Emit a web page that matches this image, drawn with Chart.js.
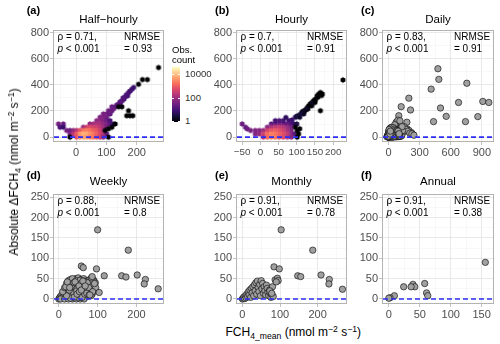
<!DOCTYPE html>
<html><head><meta charset="utf-8">
<script src="https://cdn.jsdelivr.net/npm/chart.js@4"></script>
<style>
body{margin:0;width:500px;height:344px;background:#fff;position:relative;overflow:hidden;font-family:"Liberation Sans",Arial,sans-serif;}
canvas{position:absolute;}
.t{position:absolute;white-space:nowrap;line-height:1;color:#000;}
.t sub,.t sup{font-size:0.72em;line-height:0;position:relative;vertical-align:baseline;}
.t sub{top:0.32em}.t sup{top:-0.45em}
</style></head><body>
<script>
// ---------------- DATA ----------------
// (a) Half-hourly hexbin cells: x, y, observation count
const hhX = [184,173,162,170,151,158,140,146,118,129,107,118,90,101,112,79,90,101,68,79,90,101,112,
  190,178,166,155,145,134,124,112,96,85,74,
  46,57,68,79,90,101,112,123,-58,-42,
  -53,-42,24,35,46,57,68,79,90,101,
  -31,-20,-9,2,13,24,35,46,57,68,79,90,
  -20,-9,2,13,24,35,46,57,68,79,90,101,
  2,13,24,35,46,57,68,79,90,
  272,206,219,235,140,151,173,167,178,187,118,107,96,-20,107,129];
const hhY = [366,341,308,316,278,290,253,262,232,232,202,202,177,177,177,152,152,152,126,126,126,126,126,
  380,352,325,300,270,245,218,190,165,140,114,
  101,101,101,101,101,101,101,101,101,101,
  76,76,76,76,76,76,76,76,76,76,
  51,51,51,51,51,51,51,51,51,51,51,51,
  25,25,25,25,25,25,25,25,25,25,25,25,
  0,0,0,0,0,0,0,0,0,
  532,404,440,440,232,232,202,164,164,164,76,64,51,0,0,101];
const hhN = [12,15,18,10,20,12,25,15,30,25,35,25,40,35,20,50,45,25,70,80,50,30,12,
  8,10,12,15,18,22,28,30,45,60,90,
  80,120,150,150,90,50,20,8,40,30,
  15,8,100,400,600,500,400,250,120,40,
  40,30,80,200,800,2000,2500,2000,1200,900,400,150,
  50,200,1000,4000,8000,7000,4000,2500,1200,600,200,30,
  700,4000,6000,5000,3000,2000,1000,400,80,
  1,1,1,1,1,1,1,1,1,1,1,1,1,1,1,1];

// (b) Hourly hexbin cells
const hX = [119,96,108,87,78,82,91,100,
  30,41,52,63,72,41,52,63,70,-50,-41,-36,
  19,30,41,52,63,74,85,
  -27,-14,-3,8,19,30,41,52,63,74,85,
  -14,-3,8,19,30,41,52,63,74,85,94,
  8,19,30,41,52,63,74,85,
  165,170,160,156,151,146,150,143,137,141,130,124,130,120,114,105,
  168,158,150,140,133,127,117,110,100,
  227,165,101,105,96,101,108];
const hY = [177,152,152,132,126,101,101,101,
  101,101,101,101,101,126,126,126,150,101,76,63,
  76,76,76,76,76,76,76,
  51,51,51,51,51,51,51,51,51,51,51,
  25,25,25,25,25,25,25,25,25,25,25,
  0,0,0,0,0,0,0,0,
  341,330,328,316,290,278,265,265,253,240,228,207,215,195,189,164,
  318,305,280,258,240,218,198,175,160,
  437,202,51,25,76,0,64];
const hN = [3,5,3,8,10,15,8,4,
  20,30,40,40,25,10,15,12,6,30,25,30,
  60,150,250,300,200,100,40,
  40,50,60,100,400,800,1000,700,400,150,50,
  50,80,400,1500,2500,2000,1200,700,300,80,20,
  250,1500,2500,2000,1200,600,250,60,
  1,1,1,1,1,1,1,1,1,1,1,1,1,1,1,1,
  1,1,1,2,1,2,2,3,3,
  1,1,1,1,1,1,1];

// (c) Daily
const dailyX = [0,3,6,9,12,15,18,21,24,27,30,33,36,39,42,45,48,51,54,57,60,63,66,69,72,75,78,81,84,87,90,93,96,99,102,105,108,111,114,117,120,125,
  10,20,30,40,50,60,70,80,15,25,35,45,55,65,75,85,95,105,-5,-10,5,2,8,12,40,60,80,100,20,30,
  -15,-8,-3,4,7,10,14,18,22,26,32,36,42,46,52,56,62,66,72,76,82,86,92,98,104,110,116,124,130,28,34,44,48,54,58,64,68,74,84,94,6,16,2,-2,38,50,70,88,24,60,
  476,485,411,755,675,909,967,501,556,434,742,861,196,212,122,99,74,177,180,198,222,238,90,60,140,155,150,165,185,205,225,245,120,135,110,130,
  -12,-9,-6,-4,-1,1,3,5,7,9,11,13,16,19,22,25,28,31,34,37,40,43,46,49,52,55,58,61,64,67,70,73,76,79,82,85,88,91,94,97,100,103,106,
  0,4,8,12,17,21,26,30,35,39,44,48,53,57,62,66,71,75,80,84,89,93,98,102,-3,2,6,10,14,18];
const dailyY = [0,2,5,1,8,3,12,6,16,9,20,4,24,12,28,7,32,18,36,10,40,22,44,14,48,26,52,8,30,56,18,34,60,12,38,24,44,6,30,50,16,36,
  20,30,40,50,60,70,75,70,45,55,65,72,78,62,58,45,50,55,2,5,12,25,35,50,0,2,3,4,0,-2,
  3,10,18,30,42,55,62,70,38,48,58,66,60,52,44,66,50,30,36,62,24,16,26,42,14,38,22,8,18,12,6,18,24,28,14,8,20,4,10,6,22,18,6,12,36,48,58,66,72,80,
  523,442,367,412,265,273,265,223,159,119,119,157,298,208,233,164,114,114,63,51,34,19,130,95,60,45,80,60,45,30,25,15,70,50,125,80,
  4,14,8,22,2,30,12,40,6,26,48,16,34,54,10,28,44,62,20,38,56,68,14,32,50,64,24,42,58,6,36,52,18,46,30,12,40,22,34,8,28,16,10,
  18,52,28,64,44,70,58,74,48,60,40,72,56,62,44,54,28,48,36,50,32,46,20,26,8,42,58,36,24,46];

// (d) Weekly
const weeklyX = [0,2,4,6,8,10,12,14,16,18,20,22,24,26,28,30,32,34,36,38,40,42,44,46,48,50,52,54,56,58,60,62,64,66,68,70,72,74,76,78,80,82,84,86,88,90,92,94,
  5,15,25,35,45,55,65,30,50,20,40,60,
  10,15,20,25,30,35,45,55,65,75,85,95,27,33,39,47,53,57,63,67,73,77,83,87,18,22,28,42,52,58,62,68,72,78,
  100,179,58,63,97,117,162,173,202,223,220,256,104,80,88,92,84,86];
const weeklyY = [0,3,6,2,10,4,15,8,20,12,25,5,30,18,35,10,40,25,45,15,48,30,50,20,38,52,8,42,28,48,15,35,50,22,40,5,30,45,18,38,48,25,42,12,35,46,20,40,
  0,0,0,0,0,0,0,2,3,8,5,4,
  18,28,38,45,48,50,45,46,44,40,30,28,22,33,40,12,18,38,25,12,22,28,8,18,30,42,28,42,32,22,44,32,14,10,
  170,120,81,77,74,57,57,54,59,48,37,25,16,10,45,38,52,55];

// (e) Monthly
const monthlyX = [0,2,4,6,8,10,12,14,16,18,20,22,24,26,28,30,32,34,36,38,40,42,44,46,48,50,52,54,56,58,60,62,64,66,68,70,72,74,76,78,80,82,
  84,98,87,93,95,90,103,187,147,155,209,231,230,266,73,78];
const monthlyY = [0,2,5,1,8,3,12,6,18,10,22,4,26,15,30,8,35,20,40,12,44,28,18,36,8,45,25,38,14,30,20,10,34,26,16,8,22,14,4,12,30,6,
  79,74,47,51,45,42,170,120,57,55,59,48,37,24,20,14];

// (f) Annual
const annualX = [156,58,61,63,39,42,36,24,9,2,0];
const annualY = [90,38,15,8,36,30,30,30,8,3,2];

// tick values
const ticksTopY = [0,200,400,600,800], minorTopY = [100,300,500,700];
const ticksBotY = [0,50,100,150,200,250], minorBotY = [25,75,125,175,225];
const ticksAx = [0,100,200], minorAx = [-50,50,150,250];
const ticksBx = [-50,0,50,100,150,200], minorBx = [-25,25,75,125,175,225];
const ticksCx = [0,300,600,900], minorCx = [150,450,750];
const ticksDx = [0,100,200], minorDx = [50,150,250];
const ticksEx = [0,100,200], minorEx = [50,150,250];
const ticksFx = [0,50,100,150], minorFx = [25,75,125];

// ---------------- STYLE HELPERS ----------------
const FONT = '"Liberation Sans", Arial, sans-serif';
const MAGMA = ['#000004','#140e36','#3b0f70','#641a80','#8c2981','#b73779','#de4968','#f7705c','#fe9f6d','#fecf92','#fcfdbf'];
const LOGMAX = 4.65;
function hex2rgb(h){return [parseInt(h.slice(1,3),16),parseInt(h.slice(3,5),16),parseInt(h.slice(5,7),16)];}
function magma(t){
  t=Math.max(0,Math.min(1,t)); const f=t*10; const i=Math.min(9,Math.floor(f)); const u=f-i;
  const a=hex2rgb(MAGMA[i]), b=hex2rgb(MAGMA[i+1]);
  return 'rgb('+a.map((v,k)=>Math.round(v+(b[k]-v)*u)).join(',')+')';
}
const hexCache={};
function hexImg(color,r){
  const key=color+r; if(hexCache[key]) return hexCache[key];
  const s=Math.ceil(2*r)+2; const c=document.createElement('canvas'); c.width=s; c.height=s;
  const g=c.getContext('2d'); g.fillStyle=color; g.beginPath();
  for(let k=0;k<6;k++){const a=(60*k-90)*Math.PI/180; const px=s/2+r*Math.cos(a), py=s/2+r*Math.sin(a); k?g.lineTo(px,py):g.moveTo(px,py);}
  g.closePath(); g.fill(); hexCache[key]=c; return c;
}
function txt(html,x,y,o={}){
  const d=document.createElement('div'); d.className='t'; d.innerHTML=html;
  d.style.left=x+'px'; d.style.top=y+'px'; d.style.fontSize=(o.size||10)+'px';
  if(o.bold) d.style.fontWeight='bold';
  if(o.color) d.style.color=o.color;
  const ax=o.align==='center'?'-50%':(o.align==='right'?'-100%':'0');
  d.style.transform='translate('+ax+',-50%)';
  document.body.appendChild(d); return d;
}

const overlay={id:'overlay',afterDatasetsDraw(chart){
  const {ctx,chartArea:a,scales:{y}}=chart; const py=y.getPixelForValue(0);
  ctx.save(); ctx.beginPath(); ctx.rect(a.left,a.top,a.right-a.left,a.bottom-a.top); ctx.clip();
  ctx.strokeStyle='#2e2ef2'; ctx.lineWidth=1.6; ctx.setLineDash([5,3]);
  ctx.beginPath(); ctx.moveTo(a.left+1,py); ctx.lineTo(a.right,py); ctx.stroke(); ctx.restore();
  ctx.save(); ctx.strokeStyle='#b3b3b3'; ctx.lineWidth=1;
  ctx.strokeRect(a.left+0.5,a.top+0.5,a.right-a.left-1,a.bottom-a.top-1); ctx.restore();
}};

function axis(min,max,major,minor,isX,fit,fs){
  const all=[...major,...minor].filter(v=>v>min&&v<max).sort((p,q)=>p-q);
  return {type:'linear',min,max,
    afterBuildTicks:s=>{s.ticks=all.map(v=>({value:v}));},
    afterFit:s=>{ if(isX) s.height=fit; else s.width=fit; },
    ticks:{autoSkip:false,maxRotation:0,padding:1,color:'#4d4d4d',font:{family:FONT,size:fs||11},
      callback:v=>major.includes(v)?String(v).replace('-','\u2212'):''},
    grid:{drawTicks:true,tickLength:3,
      color:c=>major.includes(c.tick&&c.tick.value)?'#e3e3e3':'#f1f1f1',
      lineWidth:c=>major.includes(c.tick&&c.tick.value)?0.8:0.5,
      tickColor:c=>major.includes(c.tick&&c.tick.value)?'#b3b3b3':'rgba(0,0,0,0)'},
    border:{display:false}};
}

const WY=34, PT=10, PR=6, HX=20;
function panel(g,xr,xMaj,xMin,yr,yMaj,yMin,datasets,xfs){
  const cv=document.createElement('canvas');
  const W=WY+g.w+PR, H=PT+g.h+HX;
  cv.width=W; cv.height=H; cv.style.left=(g.l-WY)+'px'; cv.style.top=(g.t-PT)+'px';
  cv.style.width=W+'px'; cv.style.height=H+'px';
  document.body.appendChild(cv);
  new Chart(cv,{type:'scatter',data:{datasets},
    options:{responsive:false,animation:false,devicePixelRatio:1,events:[],
      layout:{padding:{top:PT,right:PR,left:0,bottom:0}},
      plugins:{legend:{display:false},tooltip:{enabled:false}},
      scales:{x:axis(xr[0],xr[1],xMaj,xMin,true,HX,xfs),y:axis(yr[0],yr[1],yMaj,yMin,false,WY)}},
    plugins:[overlay]});
}
function hexSet(xs,ys,ns,r){
  return [{data:xs.map((x,i)=>({x,y:ys[i]})),
    pointStyle:c=>hexImg(magma(Math.log10(ns[c.dataIndex])/LOGMAX),r),
    pointRadius:r,borderWidth:0}];
}
function ptSet(xs,ys){
  return [{data:xs.map((x,i)=>({x,y:ys[i]})),pointStyle:'circle',pointRadius:3.2,
    backgroundColor:'#a0a0a0',borderColor:'#000',borderWidth:0.6}];
}

const G={a:{l:53,t:30,w:111,h:112},b:{l:236,t:30,w:111,h:112},c:{l:382,t:30,w:112,h:112},
  d:{l:53,t:194,w:111,h:110},e:{l:236,t:194,w:111,h:110},f:{l:382,t:194,w:112,h:110}};
const topY=[-37,819], botY=[-12.3,258];

panel(G.a,[-76,290],ticksAx,minorAx,topY,ticksTopY,minorTopY,hexSet(hhX,hhY,hhN,2.8));
panel(G.b,[-67,238],ticksBx,minorBx,topY,ticksTopY,minorTopY,hexSet(hX,hY,hN,2.8),9.8);
panel(G.c,[-63,1017],ticksCx,minorCx,topY,ticksTopY,minorTopY,ptSet(dailyX,dailyY));
panel(G.d,[-15,271],ticksDx,minorDx,botY,ticksBotY,minorBotY,ptSet(weeklyX,weeklyY));
panel(G.e,[-17,278],ticksEx,minorEx,botY,ticksBotY,minorBotY,ptSet(monthlyX,monthlyY));
panel(G.f,[-11,170],ticksFx,minorFx,botY,ticksBotY,minorBotY,ptSet(annualX,annualY));

// ---------------- TEXT ----------------
const stats=[['a','0.71','0.93'],['b','0.7','0.91'],['c','0.83','0.91'],['d','0.88','0.8'],['e','0.91','0.78'],['f','0.91','0.38']];
const titles={a:'Half\u2212hourly',b:'Hourly',c:'Daily',d:'Weekly',e:'Monthly',f:'Annual'};
stats.forEach(([k,rho,nr])=>{
  const g=G[k];
  txt('\u03c1 = '+rho+',',g.l+4.5,g.t+7,{size:10});
  txt('<i>p</i> &lt; 0.001',g.l+4.5,g.t+18.5,{size:10});
  txt('NRMSE',g.l+g.w-40,g.t+7,{size:10});
  txt('= '+nr,g.l+g.w-40,g.t+18.5,{size:10});
  const top=g.t<100;
  txt(titles[k],g.l+g.w/2,top?19.5:182,{size:11.5,align:'center'});
  const tx={a:26.7,b:215,c:361,d:26.7,e:215,f:361}[k];
  txt('('+k+')',tx,top?10:175,{size:11,bold:true});
});
// axis titles
const yt=txt('Absolute \u0394FCH<sub>4</sub> (nmol m<sup>\u22122</sup> s<sup>\u22121</sup>)',0,0,{size:12});
yt.style.transform='translate(-50%,-50%) rotate(-90deg)'; yt.style.left='14px'; yt.style.top='172px';
txt('FCH<sub>4_mean</sub> (nmol m<sup>\u22122</sup> s<sup>\u22121</sup>)',225.5,332,{size:12});

// colour legend
txt('Obs.',172,50,{size:9.5});
txt('count',172,60,{size:9.5});
const bar=document.createElement('div');
bar.style.cssText='position:absolute;left:172px;top:67px;width:8px;height:55px;background:linear-gradient(to top,'+MAGMA.join(',')+');';
document.body.appendChild(bar);
[[74,'10000'],[97.7,'100'],[120.7,'1']].forEach(([y,l])=>{
  txt(l,185,y,{size:9.6,color:'#333'});
  const tk=document.createElement('div');
  tk.style.cssText='position:absolute;left:172px;width:1.6px;height:0.8px;background:#fff;top:'+y+'px';
  document.body.appendChild(tk);
  const tk2=document.createElement('div');
  tk2.style.cssText='position:absolute;left:178.4px;width:1.6px;height:0.8px;background:#fff;top:'+y+'px';
  document.body.appendChild(tk2);
});
</script>
</body></html>
